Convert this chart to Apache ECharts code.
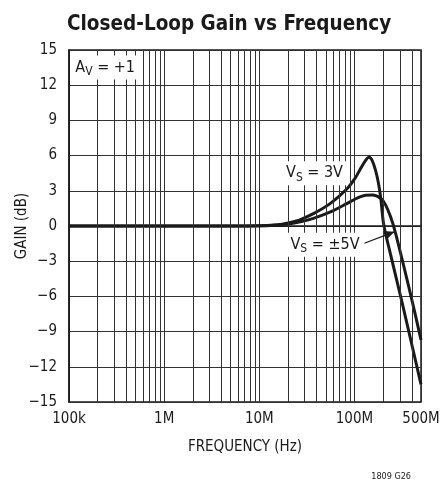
<!DOCTYPE html>
<html><head><meta charset="utf-8">
<script src="https://cdn.jsdelivr.net/npm/echarts@6/dist/echarts.min.js"></script>
<style>html,body{margin:0;padding:0;background:#fff}#c{width:441px;height:479px}</style>
</head><body><div id="c"></div>
<script>
// Frequency (Hz) and gain (dB)
var freq3V = [1e5, 5e6, 1.2e7, 1.66e7, 2.12e7, 2.7e7, 3.7e7, 5.59e7, 8.4e7, 1.02e8, 1.16e8, 1.31e8, 1.42e8, 1.55e8, 1.73e8, 1.88e8, 2.03e8, 2.39e8, 3.18e8, 5e8];
var gain3V = [0, 0, 0.05, 0.12, 0.3, 0.55, 1.05, 1.93, 3.2, 4.1, 4.9, 5.6, 5.85, 5.5, 4.2, 2.5, 0.1, -2.4, -6.6, -13.5];
var freq5V = [1e5, 5e6, 1.2e7, 1.66e7, 2.12e7, 2.7e7, 3.7e7, 5.59e7, 8.4e7, 1.02e8, 1.16e8, 1.31e8, 1.55e8, 1.88e8, 2.12e8, 2.39e8, 2.7e8, 3.88e8, 5e8];
var gain5V = [0, 0, 0.03, 0.08, 0.2, 0.35, 0.65, 1.2, 1.93, 2.3, 2.5, 2.62, 2.64, 2.36, 1.8, 0.8, -0.6, -5.8, -9.7];

var xTickValues = [1e5, 1e6, 1e7, 1e8, 5e8];
var xTickLabels = ['100k', '1M', '10M', '100M', '500M'];
var yTickValues = [-15, -12, -9, -6, -3, 0, 3, 6, 9, 12, 15];
var yTickLabels = ['\u221215', '\u221212', '\u22129', '\u22126', '\u22123', '0', '3', '6', '9', '12', '15'];

var FONT = "'Liberation Sans Narrow', 'DejaVu Sans Condensed', 'Liberation Sans', sans-serif";
var INK = '#1a1a1a';

function pair(f, g) { return f.map(function (v, i) { return [v, g[i]]; }); }

// minor log grid lines (2..9 within each decade)
var minorLines = [];
for (var d = 1e5; d < 5e8; d *= 10) {
  for (var m = 2; m <= 9; m++) {
    var v = d * m;
    if (v < 5e8) minorLines.push({ xAxis: v });
  }
}

var chart = echarts.init(document.getElementById('c'), null, { renderer: 'canvas' });
chart.setOption({
  animation: false,
  backgroundColor: '#fff',
  title: {
    text: 'Closed-Loop Gain vs Frequency',
    left: 62, top: 9,
    textStyle: { fontFamily: FONT, fontWeight: 'bold', fontSize: 20.5, color: INK }
  },
  grid: {
    left: 69, right: 20, top: 50, bottom: 77, show: true,
    borderColor: INK, borderWidth: 1.5, backgroundColor: 'transparent',
    containLabel: false, outerBoundsMode: 'none'
  },
  xAxis: {
    type: 'log', logBase: 10, min: 1e5, max: 5e8,
    name: 'FREQUENCY (Hz)', nameLocation: 'middle', nameGap: 38, nameMoveOverlap: false,
    nameTextStyle: { fontFamily: FONT, fontSize: 15, color: INK },
    axisLine: { show: true, lineStyle: { color: INK, width: 1.5 } },
    axisTick: { show: false },
    splitLine: { show: true, lineStyle: { color: '#333', width: 1 } },
    axisLabel: {
      margin: 10, fontFamily: FONT, fontSize: 15, color: INK,
      showMinLabel: true, showMaxLabel: true,
      formatter: function (val) {
        for (var i = 0; i < xTickValues.length; i++) {
          if (Math.abs(Math.log10(val) - Math.log10(xTickValues[i])) < 0.01) return xTickLabels[i];
        }
        return '';
      }
    }
  },
  yAxis: {
    type: 'value', min: -15, max: 15, interval: 3,
    name: 'GAIN (dB)', nameLocation: 'middle', nameGap: 39, nameMoveOverlap: false,
    nameTextStyle: { fontFamily: FONT, fontSize: 15, color: INK },
    axisLine: { show: true, lineStyle: { color: INK, width: 1.5 } },
    axisTick: { show: false },
    splitLine: { show: true, lineStyle: { color: '#333', width: 1 } },
    axisLabel: {
      margin: 12, fontFamily: FONT, fontSize: 15, color: INK,
      formatter: function (val) {
        var i = yTickValues.indexOf(Math.round(val));
        return i >= 0 ? yTickLabels[i] : '';
      }
    }
  },
  series: [
    {
      type: 'line', data: [], z: 1, silent: true,
      markLine: {
        silent: true, symbol: ['none', 'none'], label: { show: false },
        lineStyle: { color: '#333', width: 1, type: 'solid' },
        data: minorLines
      }
    },
    {
      name: 'VS = 3V', type: 'line', data: pair(freq3V, gain3V), z: 3,
      showSymbol: false, smooth: 0.3,
      lineStyle: { color: INK, width: 3 }
    },
    {
      name: 'VS = ±5V', type: 'line', data: pair(freq5V, gain5V), z: 3,
      showSymbol: false, smooth: 0.3,
      lineStyle: { color: INK, width: 3 }
    },
    {
      type: 'line', data: [], z: 5, silent: true,
      markLine: {
        silent: true, symbol: ['none', 'arrow'], symbolSize: [7, 10], label: { show: false },
        lineStyle: { color: INK, width: 1.2, type: 'solid' },
        data: [[{ coord: [1.19e8, -1.55] }, { coord: [2.62e8, -0.5] }]]
      },
      markPoint: {
        symbol: 'rect', symbolSize: 1, itemStyle: { color: 'rgba(0,0,0,0)' },
        label: {
          show: true, position: 'inside', color: INK, fontFamily: FONT, fontSize: 16,
          backgroundColor: '#fff', padding: [2, 5, 2, 5],
          rich: {
            m: { fontFamily: FONT, fontSize: 16, color: INK, lineHeight: 20 },
            s: { fontFamily: FONT, fontSize: 12, color: INK, lineHeight: 20, padding: [9, 0, 0, 0] }
          }
        },
        data: [
          { coord: [2.4e5, 13.5], label: { formatter: '{m|A}{s|V}{m| = +1}' } },
          { coord: [3.8e7, 4.5], label: { formatter: '{m|V}{s|S}{m| = 3V}' } },
          { coord: [4.9e7, -1.6], label: { formatter: '{m|V}{s|S}{m| = \u00b15V}' } }
        ]
      }
    }
  ],
  graphic: [
    {
      type: 'text', right: 30, top: 472,
      style: { text: '1809 G26', fontFamily: FONT, fontSize: 9, fill: INK }
    }
  ]
});
</script>
</body></html>
